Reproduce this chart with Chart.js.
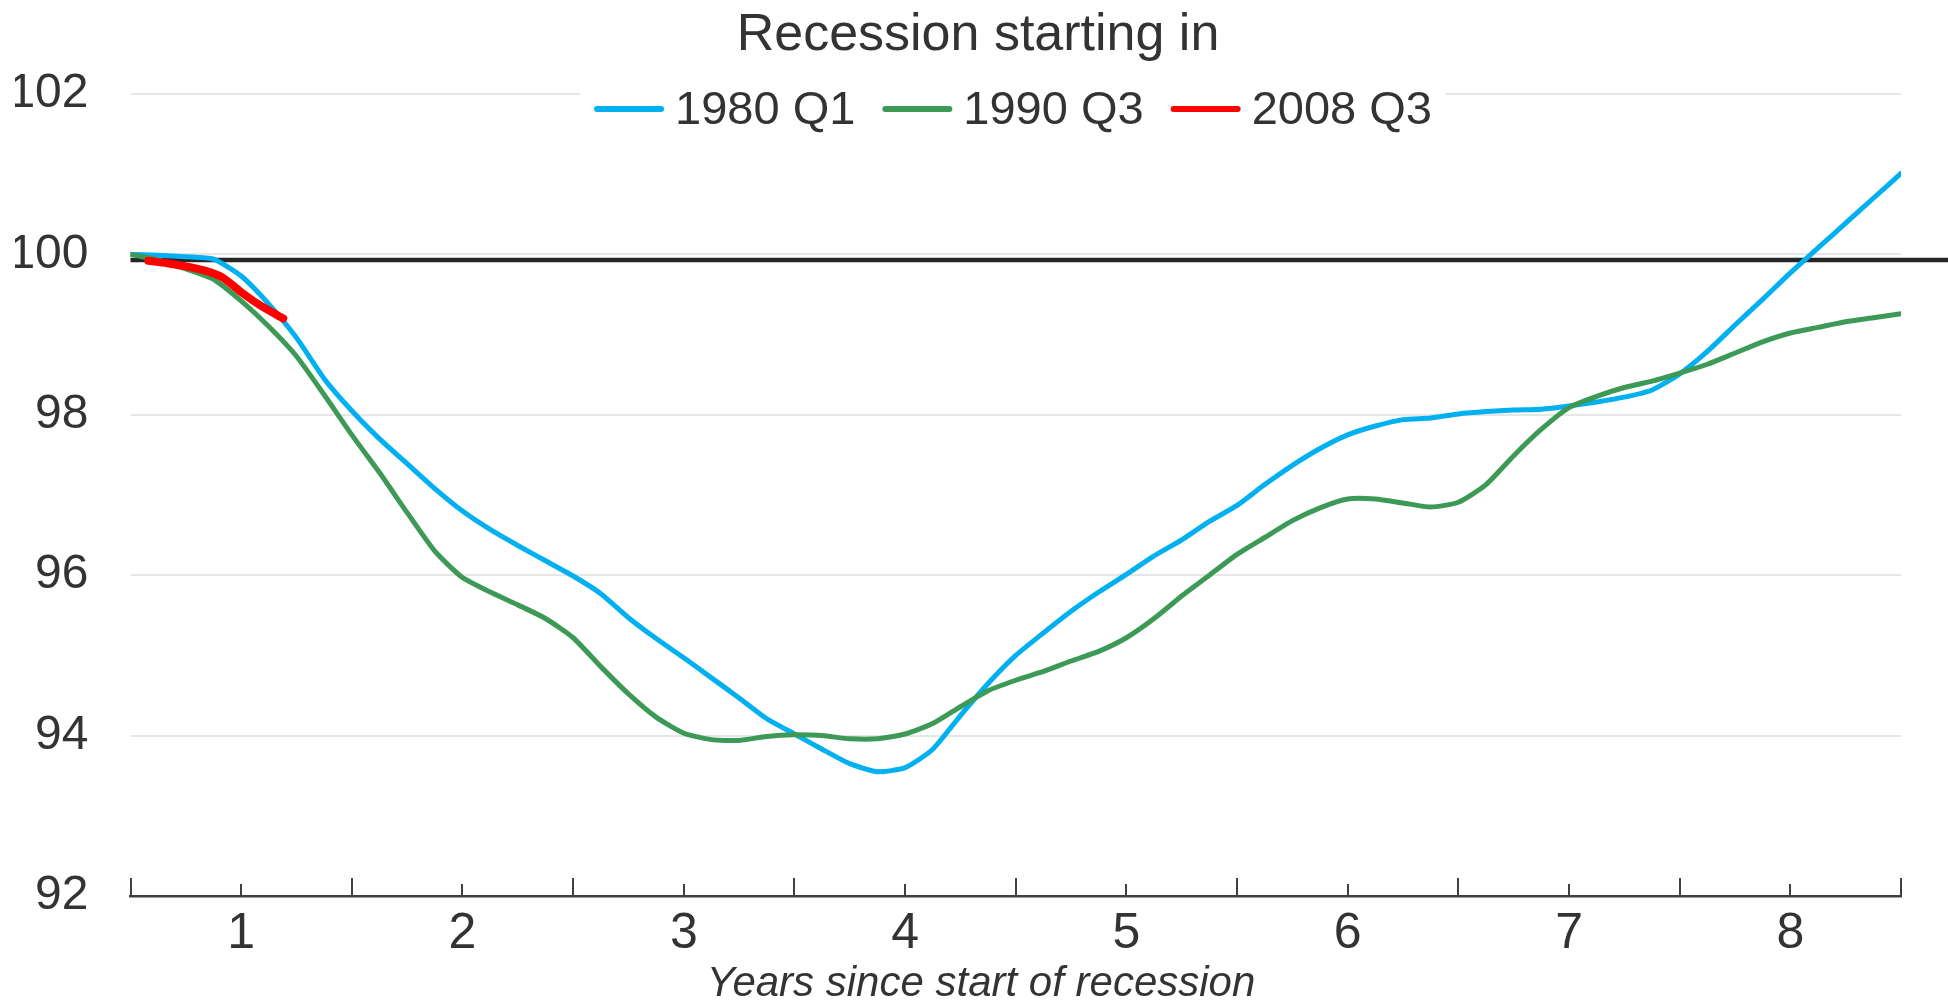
<!DOCTYPE html>
<html>
<head>
<meta charset="utf-8">
<script src="https://cdn.jsdelivr.net/npm/chart.js@4.4.1/dist/chart.umd.min.js"></script>
<style>
  html, body { margin: 0; padding: 0; background: #ffffff; }
  #wrap { width: 1948px; height: 1002px; }
</style>
</head>
<body>
<div id="wrap"><canvas id="c" width="1948" height="1002"></canvas></div>
<script>
const chartTitle = 'Recession starting in';
const xAxisTitle = 'Years since start of recession';
const seriesNames = ['1980 Q1', '1990 Q3', '2008 Q3'];
const seriesColors = ['#00B0F0', '#3C9A56', '#FF0000'];

const years = [0.5, 0.625, 0.75, 0.875, 1.0, 1.125, 1.25, 1.375, 1.5, 1.625, 1.75, 1.875,
  2.0, 2.125, 2.25, 2.375, 2.5, 2.625, 2.75, 2.875, 3.0, 3.125, 3.25, 3.375, 3.5, 3.625, 3.75, 3.875,
  4.0, 4.125, 4.25, 4.375, 4.5, 4.625, 4.75, 4.875, 5.0, 5.125, 5.25, 5.375, 5.5, 5.625, 5.75, 5.875,
  6.0, 6.125, 6.25, 6.375, 6.5, 6.625, 6.75, 6.875, 7.0, 7.125, 7.25, 7.375, 7.5, 7.625, 7.75, 7.875,
  8.0, 8.125, 8.25, 8.375, 8.5];

const rec1980 = [100.0, 99.99, 99.97, 99.94, 99.73, 99.38, 98.96, 98.45, 98.05, 97.70, 97.39, 97.08,
  96.80, 96.57, 96.37, 96.18, 95.99, 95.77, 95.47, 95.21, 94.97, 94.72, 94.47, 94.21, 94.02, 93.83, 93.65, 93.55,
  93.60, 93.83, 94.25, 94.65, 95.00, 95.28, 95.55, 95.79, 96.01, 96.24, 96.44, 96.67, 96.87, 97.13, 97.37, 97.58,
  97.75, 97.86, 97.94, 97.96, 98.01, 98.04, 98.06, 98.07, 98.11, 98.16, 98.22, 98.31, 98.51, 98.79, 99.12, 99.44,
  99.77, 100.08, 100.39, 100.70, 101.01];

const rec1990 = [100.0, 99.93, 99.82, 99.69, 99.42, 99.10, 98.73, 98.25, 97.75, 97.28, 96.78, 96.30,
  95.97, 95.79, 95.63, 95.46, 95.22, 94.86, 94.52, 94.23, 94.03, 93.95, 93.94, 93.99, 94.01, 94.00, 93.96, 93.96,
  94.02, 94.15, 94.36, 94.56, 94.69, 94.80, 94.93, 95.05, 95.22, 95.46, 95.74, 96.00, 96.26, 96.47, 96.68, 96.84,
  96.95, 96.95, 96.90, 96.85, 96.91, 97.13, 97.49, 97.82, 98.09, 98.23, 98.34, 98.42, 98.52, 98.63, 98.77, 98.91,
  99.02, 99.09, 99.16, 99.21, 99.26];

const years2008 = [0.58, 0.667, 0.75, 0.833, 0.917, 1.0, 1.083, 1.19];
const rec2008 = [99.92, 99.89, 99.85, 99.80, 99.71, 99.53, 99.37, 99.20];

const xTickValues = [1, 2, 3, 4, 5, 6, 7, 8];
const xHalfTicks = [0.5, 1.5, 2.5, 3.5, 4.5, 5.5, 6.5, 7.5, 8.5];
const yTickValues = [92, 94, 96, 98, 100, 102];
const referenceLevel = 99.93;

const FONT = "'Liberation Sans', Arial, Helvetica, sans-serif";
const TEXT = '#333333';
const AXIS = '#404040';

function pairs(xs, ys) { return xs.map((x, i) => ({ x: x, y: ys[i] })); }

const referenceLine = {
  id: 'referenceLine',
  beforeDatasetsDraw(chart) {
    const { ctx, chartArea, scales } = chart;
    const y = scales.y.getPixelForValue(referenceLevel);
    ctx.save();
    ctx.strokeStyle = '#262626';
    ctx.lineWidth = 4.5;
    ctx.beginPath();
    ctx.moveTo(chartArea.left, y);
    ctx.lineTo(chart.width, y);
    ctx.stroke();
    ctx.restore();
  }
};

const axisMarks = {
  id: 'axisMarks',
  afterDraw(chart) {
    const { ctx, chartArea, scales } = chart;
    const x = scales.x;
    const base = chartArea.bottom;
    ctx.save();
    ctx.strokeStyle = AXIS;
    ctx.lineWidth = 2;
    const all = xHalfTicks.concat(xTickValues);
    all.forEach(v => {
      const px = Math.round(x.getPixelForValue(v));
      const len = xHalfTicks.includes(v) ? 18 : 12;
      ctx.beginPath();
      ctx.moveTo(px, base);
      ctx.lineTo(px, base - len);
      ctx.stroke();
    });
    ctx.restore();
  }
};

const textAndLegend = {
  id: 'textAndLegend',
  afterDraw(chart) {
    const { ctx } = chart;
    ctx.save();
    // Title
    ctx.fillStyle = TEXT;
    ctx.font = '52px ' + FONT;
    ctx.textAlign = 'center';
    ctx.textBaseline = 'alphabetic';
    ctx.fillText(chartTitle, 978, 50);

    // Legend
    ctx.font = '47px ' + FONT;
    const sw = 70, gapText = 11, gapItem = 27;
    const widths = seriesNames.map(n => ctx.measureText(n).width);
    let total = 0;
    widths.forEach((w, i) => { total += sw + gapText + w + (i < widths.length - 1 ? gapItem : 0); });
    const cx = 1013;
    let lx = cx - total / 2;
    const ly = 109;
    ctx.fillStyle = '#ffffff';
    ctx.fillRect(lx - 14, ly - 26, total + 28, 50);
    ctx.textAlign = 'left';
    ctx.textBaseline = 'middle';
    seriesNames.forEach((n, i) => {
      ctx.strokeStyle = seriesColors[i];
      ctx.lineWidth = 6;
      ctx.lineCap = 'round';
      ctx.beginPath();
      ctx.moveTo(lx + 3, ly);
      ctx.lineTo(lx + sw - 3, ly);
      ctx.stroke();
      ctx.fillStyle = TEXT;
      ctx.fillText(n, lx + sw + gapText, ly + 2);
      lx += sw + gapText + widths[i] + gapItem;
    });

    // X axis title
    ctx.font = 'italic 42px ' + FONT;
    ctx.textAlign = 'center';
    ctx.textBaseline = 'alphabetic';
    ctx.fillStyle = TEXT;
    ctx.fillText(xAxisTitle, 981, 996);
    ctx.restore();
  }
};

new Chart(document.getElementById('c'), {
  type: 'line',
  data: {
    datasets: [
      { label: seriesNames[0], data: pairs(years, rec1980), borderColor: seriesColors[0], borderWidth: 5, order: 2 },
      { label: seriesNames[1], data: pairs(years, rec1990), borderColor: seriesColors[1], borderWidth: 5, order: 1 },
      { label: seriesNames[2], data: pairs(years2008, rec2008), borderColor: seriesColors[2], borderWidth: 8, order: 0 }
    ]
  },
  options: {
    responsive: false,
    animation: false,
    devicePixelRatio: 1,
    layout: { padding: { left: 15, right: 47, top: 94, bottom: 0 } },
    elements: {
      point: { radius: 0, hoverRadius: 0 },
      line: { tension: 0.2, fill: false, borderCapStyle: 'round', borderJoinStyle: 'round' }
    },
    plugins: {
      legend: { display: false },
      title: { display: false },
      tooltip: { enabled: false }
    },
    scales: {
      x: {
        type: 'linear',
        min: 0.5,
        max: 8.5,
        afterBuildTicks: s => { s.ticks = xTickValues.map(v => ({ value: v })); },
        afterFit: s => { s.height = 106; },
        grid: { display: false, drawTicks: false },
        border: { display: true, color: AXIS, width: 2.5 },
        ticks: { font: { size: 50, family: FONT }, color: TEXT, padding: 8, maxRotation: 0, autoSkip: false }
      },
      y: {
        min: 92,
        max: 102,
        afterBuildTicks: s => { s.ticks = yTickValues.map(v => ({ value: v })); },
        afterFit: s => { s.width = 115.5; },
        grid: { color: '#e6e6e6', lineWidth: 2, drawTicks: false },
        border: { display: false },
        ticks: { font: { size: 48, family: FONT }, color: TEXT, padding: 42 }
      }
    }
  },
  plugins: [referenceLine, axisMarks, textAndLegend]
});
</script>
</body>
</html>
